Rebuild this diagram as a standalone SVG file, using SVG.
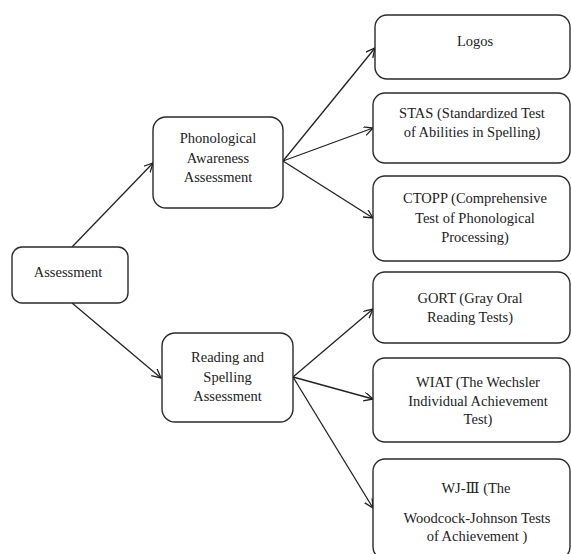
<svg xmlns="http://www.w3.org/2000/svg" width="571" height="554" viewBox="0 0 571 554">
<style>
.box{fill:#fff;stroke:#2a2a2a;stroke-width:1.4}
.t{font-size:14.5px;fill:#222;text-anchor:middle}
.c{stroke:#222;stroke-width:1.3;fill:none}
</style>
<defs>
<marker id="ah" markerUnits="userSpaceOnUse" markerWidth="12" markerHeight="12" refX="9" refY="4.5" orient="auto">
<path d="M0,0 L9,4.5 L0,9" fill="none" stroke="#222" stroke-width="1.3"/>
</marker>
</defs>
<rect width="571" height="554" fill="#fff"/>
<g id="connectors">
<line class="c" x1="72" y1="247" x2="153" y2="163" marker-end="url(#ah)"/>
<line class="c" x1="72" y1="303" x2="161" y2="378" marker-end="url(#ah)"/>
<line class="c" x1="283" y1="161" x2="375" y2="48" marker-end="url(#ah)"/>
<line class="c" x1="283" y1="161" x2="373" y2="128" marker-end="url(#ah)"/>
<line class="c" x1="283" y1="161" x2="373" y2="218" marker-end="url(#ah)"/>
<line class="c" x1="293" y1="377" x2="373" y2="309" marker-end="url(#ah)"/>
<line class="c" x1="293" y1="377" x2="373" y2="399" marker-end="url(#ah)"/>
<line class="c" x1="293" y1="377" x2="373" y2="508" marker-end="url(#ah)"/>
</g>
<g id="nodes" font-family="Liberation Serif, DejaVu Serif, Noto Sans CJK SC, serif">
<g id="assessment">
<rect class="box" x="12" y="247" width="116" height="56" rx="10"/>
<text class="t" x="68" y="277">Assessment</text>
</g>
<g id="phonological">
<rect class="box" x="153" y="117" width="130" height="91" rx="13"/>
<text class="t" x="218" y="143">Phonological</text>
<text class="t" x="218" y="163">Awareness</text>
<text class="t" x="218" y="182">Assessment</text>
</g>
<g id="reading">
<rect class="box" x="162" y="333" width="131" height="89" rx="13"/>
<text class="t" x="227.5" y="362">Reading and</text>
<text class="t" x="227.5" y="382">Spelling</text>
<text class="t" x="227.5" y="401">Assessment</text>
</g>
<g id="logos">
<rect class="box" x="375" y="15" width="195" height="64" rx="12"/>
<text class="t" x="475" y="46">Logos</text>
</g>
<g id="stas">
<rect class="box" x="373" y="93" width="197" height="70" rx="12"/>
<text class="t" x="472" y="118">STAS (Standardized Test</text>
<text class="t" x="472" y="137">of Abilities in Spelling)</text>
</g>
<g id="ctopp">
<rect class="box" x="373" y="176" width="197" height="85" rx="12"/>
<text class="t" x="475" y="203">CTOPP (Comprehensive</text>
<text class="t" x="475" y="223">Test of Phonological</text>
<text class="t" x="475" y="242">Processing)</text>
</g>
<g id="gort">
<rect class="box" x="373" y="272" width="197" height="71" rx="12"/>
<text class="t" x="470" y="303">GORT (Gray Oral</text>
<text class="t" x="470" y="322">Reading Tests)</text>
</g>
<g id="wiat">
<rect class="box" x="373" y="358" width="197" height="84" rx="12"/>
<text class="t" x="478" y="387">WIAT (The Wechsler</text>
<text class="t" x="478" y="406">Individual Achievement</text>
<text class="t" x="478" y="424">Test)</text>
</g>
<g id="wj">
<rect class="box" x="373" y="459" width="197" height="100" rx="12"/>
<text class="t" x="476" y="493">WJ-Ⅲ  (The</text>
<text class="t" x="477" y="523">Woodcock-Johnson Tests</text>
<text class="t" x="477" y="541">of Achievement )</text>
</g>
</g>
</svg>
